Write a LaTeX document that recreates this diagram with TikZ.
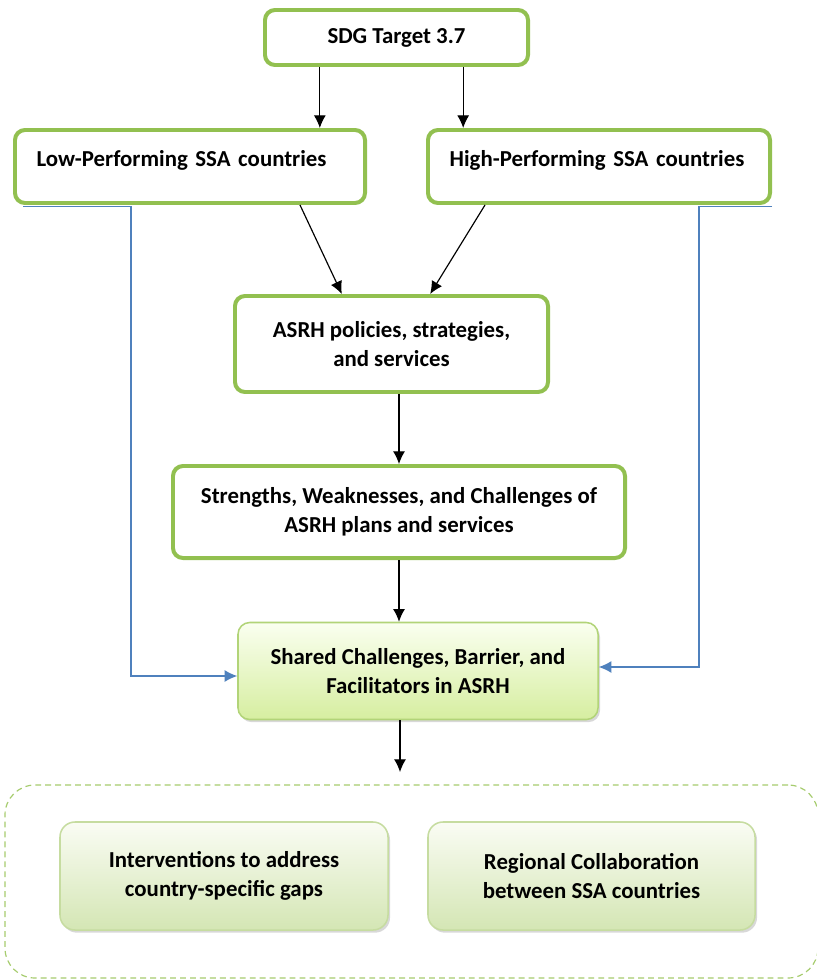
\documentclass[tikz,border=0pt]{standalone}
\usepackage{fontspec}
\setmainfont{Carlito}
\usepackage{xcolor}
\usepackage{tikz}
\usetikzlibrary{positioning, shapes.geometric, arrows, calc, arrows.meta, shadows}

\definecolor{boxgreen}{RGB}{146,192,80}
\definecolor{lightedge}{RGB}{178,212,120}
\definecolor{paleedge}{RGB}{198,220,160}
\definecolor{linkblue}{RGB}{79,129,189}
\definecolor{dashgreen}{RGB}{166,204,110}

\begin{document}
\begin{tikzpicture}[x=0.03cm, y=-0.03cm, >={Latex[length=0.38cm,width=0.36cm]},
    boxfont/.style={font=\bfseries\fontsize{19.5}{24.8}\selectfont},
    greenbox/.style={draw=boxgreen, line width=3.4pt, rounded corners=0.3cm, fill=white, align=center, boxfont},
    sharedbox/.style={draw=lightedge, line width=1.3pt, rounded corners=0.35cm, top color=green!8!lime!6!white, bottom color={rgb,255:red,214;green,238;blue,160}, drop shadow={opacity=0.3, shadow xshift=0.06cm, shadow yshift=-0.08cm}, align=center, boxfont},
    outcomebox/.style={draw=paleedge, line width=1.3pt, rounded corners=0.45cm, top color={rgb,255:red,250;green,252;blue,244}, bottom color={rgb,255:red,212;green,230;blue,180}, drop shadow={opacity=0.3, shadow xshift=0.06cm, shadow yshift=-0.08cm}, align=center, boxfont},
    arrowline/.style={line width=1pt},
    bluelink/.style={draw=linkblue, line width=1pt}]

    % Define the frame
    \clip (0,0) rectangle (817,980);
    \fill[white] (0,0) rectangle (817,980);

    % Draw the boxes
    \node[greenbox, minimum width=7.89cm, minimum height=1.65cm] (sdg) at (396.5,37.5) {SDG Target 3.7};
    \node[greenbox, minimum height=2.19cm, text width=9.2cm, inner xsep=0.65cm, align=left, text height=0.5cm, text depth=0.5cm] (low) at (190,166.5) {Low-Performing SSA countries};
    \node[greenbox, minimum height=2.19cm, text width=8.96cm, inner xsep=0.65cm, align=left, text height=0.5cm, text depth=0.5cm] (high) at (599,166.5) {High-Performing SSA countries};
    \node[greenbox, minimum width=9.39cm, minimum height=2.88cm] (asrh) at (391.5,344) {ASRH policies, strategies,\\and services};
    \node[greenbox, minimum width=13.56cm, minimum height=2.76cm] (swc) at (399,512) {Strengths, Weaknesses, and Challenges of\\ASRH plans and services};
    \node[sharedbox, minimum width=10.8cm, minimum height=2.91cm] (shared) at (418,671) {Shared Challenges, Barrier, and\\Facilitators in ASRH};

    % Draw the outcome group
    \node[draw=dashgreen, dash pattern=on 5pt off 3.5pt, line width=1pt, rounded corners=0.9cm, minimum width=24.39cm, minimum height=5.79cm] (outcomes) at (411.5,881.5) {};
    \node[outcomebox, minimum width=9.84cm, minimum height=3.24cm] (interv) at (224,876) {Interventions to address\\country-specific gaps};
    \node[outcomebox, minimum width=9.81cm, minimum height=3.24cm] (regional) at (591.5,876) {Regional Collaboration\\between SSA countries};

    % Draw the arrows
    \draw[->, arrowline] ($(sdg.south)+(-2.3cm,0)$) -- ($(sdg.south |- low.north)+(-2.3cm,0)$);
    \draw[->, arrowline] ($(sdg.south)+(2cm,0)$) -- ($(sdg.south |- high.north)+(2cm,0)$);
    \draw[->, arrowline] ($(low.south)+(3.3cm,0)$) -- ($(asrh.north)+(-1.49cm,0)$);
    \draw[->, arrowline] ($(high.south)+(-3.42cm,0)$) -- ($(asrh.north)+(1.16cm,0)$);
    \draw[->, arrowline] (asrh.south -| swc.north) -- (swc.north);
    \draw[->, arrowline] (swc.south) -- (swc.south |- shared.north);
    \coordinate (dtop) at (400,772);
    \draw[->, arrowline] (shared.south -| dtop) -- (dtop);

    % Draw the side links
    \draw[->, bluelink] ([xshift=0.3cm, yshift=-0.05cm]low.south west) -- ++(3.24cm,0) |- ([yshift=-0.15cm]shared.west);
    \draw[->, bluelink] ([yshift=-0.05cm]high.south east) -- ++(-2.19cm,0) |- ([yshift=0.12cm]shared.east);

\end{tikzpicture}
\end{document}
